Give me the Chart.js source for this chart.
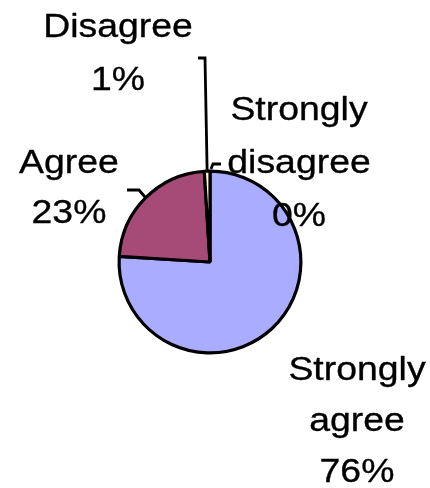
<!DOCTYPE html>
<html>
<head>
<meta charset="utf-8">
<script src="https://cdn.jsdelivr.net/npm/chart.js@4/dist/chart.umd.min.js"></script>
<style>
html,body{margin:0;padding:0;background:#fff;}
#wrap{position:relative;width:430px;height:488px;}
</style>
</head>
<body>
<div id="wrap"><canvas id="c" width="430" height="488"></canvas></div>
<script>
const categories = ["Strongly agree", "Agree", "Disagree", "Strongly disagree"];
const values = [76, 23, 1, 0];
const percentLabels = ["76%", "23%", "1%", "0%"];
const labelLines = [["Strongly", "agree"], ["Agree"], ["Disagree"], ["Strongly", "disagree"]];
const colors = ["#AAACFF", "#A64A78", "#FFFFCC", "#CCFFFF"];

// label placement (style): centre x and first baseline, relative to pie centre
const labelPlace = [
  {dx: 147, dy: 118, lh: 51},
  {dx: -141, dy: -89, lh: 50},
  {dx: -92, dy: -225, lh: 53},
  {dx: 89, dy: -142, lh: 53}
];

const labelPlugin = {
  id: 'pieLabels',
  afterDraw(chart) {
    const ctx = chart.ctx;
    const meta = chart.getDatasetMeta(0);
    const arc0 = meta.data[0];
    const cx = arc0.x, cy = arc0.y, R = arc0.outerRadius;
    const edge = (i) => {
      const a = meta.data[i];
      const m = (a.startAngle + a.endAngle) / 2;
      return [cx + Math.cos(m) * (R + 1), cy + Math.sin(m) * (R + 1)];
    };
    ctx.save();
    ctx.strokeStyle = '#000';
    ctx.lineWidth = 2.8;
    ctx.lineCap = 'butt';
    // leader lines
    let p = edge(1);
    ctx.beginPath();
    ctx.moveTo(p[0], p[1]);
    ctx.lineTo(cx - 71, cy - 72);
    ctx.lineTo(cx - 83, cy - 72);
    ctx.stroke();
    p = edge(2);
    ctx.beginPath();
    ctx.moveTo(p[0], p[1]);
    ctx.lineTo(cx - 5, cy - 204);
    ctx.lineTo(cx - 12, cy - 204);
    ctx.stroke();
    p = edge(3);
    ctx.beginPath();
    ctx.moveTo(p[0] + 1, p[1] - 1);
    ctx.lineTo(cx + 3, cy - 98);
    ctx.lineTo(cx + 11, cy - 98);
    ctx.stroke();

    // texts
    ctx.fillStyle = '#000';
    ctx.strokeStyle = '#000';
    ctx.lineWidth = 0.35;
    ctx.lineJoin = 'round';
    ctx.font = '34px "Liberation Sans", Arial, sans-serif';
    ctx.textAlign = 'center';
    ctx.textBaseline = 'alphabetic';
    const sx = 1.1;
    categories.forEach((c, i) => {
      const pl = labelPlace[i];
      const lines = labelLines[i].concat([percentLabels[i]]);
      lines.forEach((t, k) => {
        ctx.save();
        ctx.translate(cx + pl.dx, cy + pl.dy + k * pl.lh);
        ctx.scale(sx, 1);
        ctx.fillText(t, 0, 0);
        ctx.strokeText(t, 0, 0);
        ctx.restore();
      });
    });
    ctx.restore();
  }
};

new Chart(document.getElementById('c'), {
  type: 'pie',
  data: {
    labels: categories,
    datasets: [{
      data: values,
      backgroundColor: colors,
      borderColor: '#000',
      borderWidth: 3.2
    }]
  },
  options: {
    responsive: false,
    animation: false,
    layout: {padding: {left: 117.5, right: 127.5, top: 169.5, bottom: 133.5}},
    plugins: {legend: {display: false}, tooltip: {enabled: false}}
  },
  plugins: [labelPlugin]
});
</script>
</body>
</html>
